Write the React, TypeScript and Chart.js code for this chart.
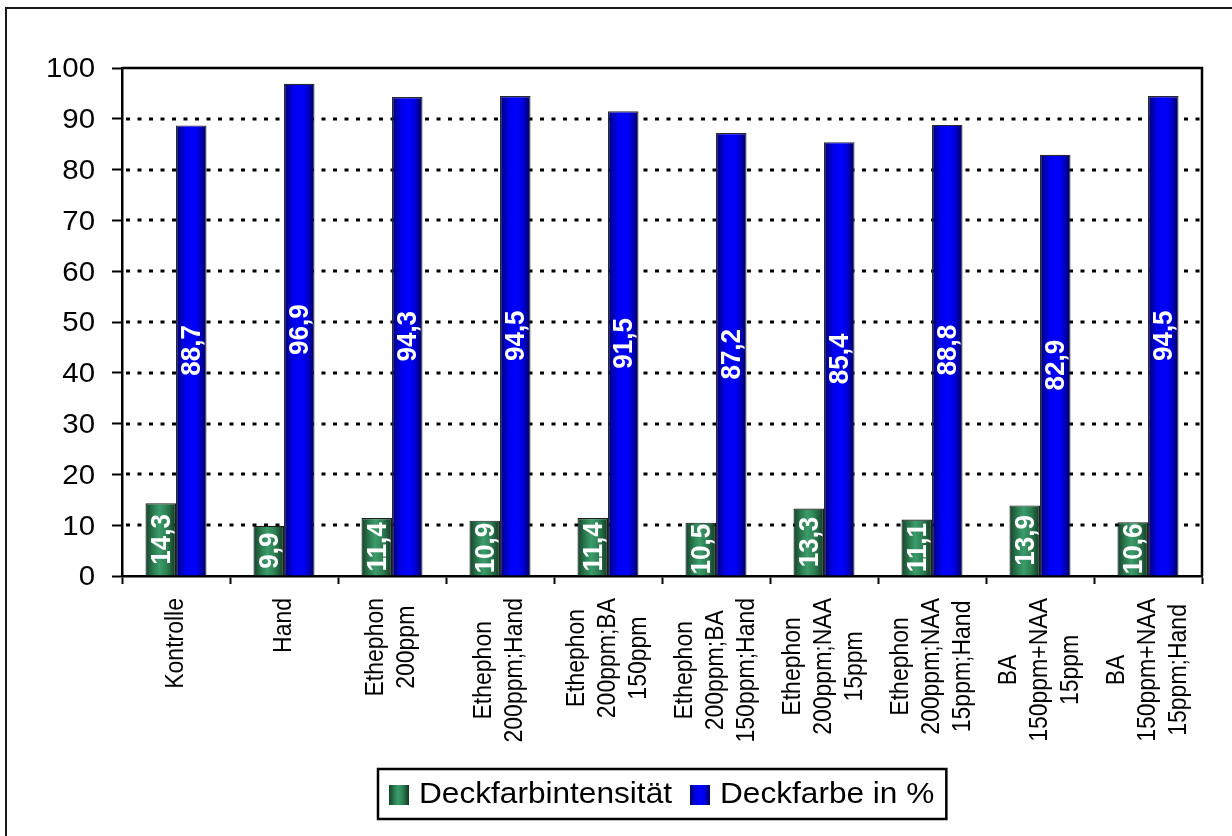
import React, { useEffect, useRef } from "react";
import { Chart, registerables } from "chart.js";

Chart.register(...registerables);

// Treatments (each entry = the lines of the axis label)
const categories: string[][] = [
  ["Kontrolle"],
  ["Hand"],
  ["Ethephon", "200ppm"],
  ["Ethephon", "200ppm;Hand"],
  ["Ethephon", "200ppm;BA", "150ppm"],
  ["Ethephon", "200ppm;BA", "150ppm;Hand"],
  ["Ethephon", "200ppm;NAA", "15ppm"],
  ["Ethephon", "200ppm;NAA", "15ppm;Hand"],
  ["BA", "150ppm+NAA", "15ppm"],
  ["BA", "150ppm+NAA", "15ppm;Hand"],
];

const deckfarbintensitaet: number[] = [14.3, 9.9, 11.4, 10.9, 11.4, 10.5, 13.3, 11.1, 13.9, 10.6];
const deckfarbeProzent: number[] = [88.7, 96.9, 94.3, 94.5, 91.5, 87.2, 85.4, 88.8, 82.9, 94.5];

const seriesNames: string[] = ["Deckfarbintensität", "Deckfarbe in %"];

const yMin = 0;
const yMax = 100;
const yStep = 10;
const dottedGridValues: number[] = [10, 20, 30, 40, 50, 60, 70, 80, 90];

const FONT = "'Liberation Sans', Arial, Helvetica, sans-serif";
const CAT_PCT = 0.565;
const H_SCALE = 1.09;

type Stop = [number, string];
const greenStops: Stop[] = [
  [0, "#15432a"],
  [0.25, "#2a7a4f"],
  [0.45, "#3c9c6b"],
  [0.7, "#2c7f52"],
  [1, "#103620"],
];
const blueStops: Stop[] = [
  [0, "#00006a"],
  [0.28, "#0000e6"],
  [0.5, "#0000ff"],
  [0.72, "#0000e6"],
  [1, "#000060"],
];

function makeGradient(ctx: CanvasRenderingContext2D, left: number, w: number, stops: Stop[]) {
  const g = ctx.createLinearGradient(left, 0, left + w, 0);
  stops.forEach(([o, c]) => g.addColorStop(o, c));
  return g;
}

// Horizontal gradient per bar, positioned from the category scale
function barFill(stops: Stop[], side: number) {
  return (context: any) => {
    const chart = context.chart;
    const xs = chart.scales && chart.scales.x;
    if (context.type !== "data" || !xs || !chart.chartArea) return stops[2][1];
    const cx = xs.getPixelForValue(context.dataIndex);
    const w = ((xs.width / chart.data.labels.length) * CAT_PCT) / 2;
    const left = side === 0 ? cx - w : cx;
    return makeGradient(chart.ctx, left, w, stops);
  };
}

// Dotted horizontal grid behind the bars
const dottedGrid = {
  id: "dottedGrid",
  beforeDatasetsDraw(chart: any) {
    const { ctx, chartArea } = chart;
    const ys = chart.scales.y;
    ctx.save();
    ctx.strokeStyle = "#000";
    ctx.lineWidth = 3;
    ctx.setLineDash([4, 7.5]);
    dottedGridValues.forEach((v) => {
      const y = Math.round(ys.getPixelForValue(v));
      ctx.beginPath();
      ctx.moveTo(chartArea.left + 4, y);
      ctx.lineTo(chartArea.right, y);
      ctx.stroke();
    });
    ctx.restore();
  },
};

// Rotated white value labels in the middle of each bar
const valueLabels = {
  id: "valueLabels",
  afterDatasetsDraw(chart: any) {
    const c = chart.ctx;
    chart.data.datasets.forEach((ds: any, di: number) => {
      const meta = chart.getDatasetMeta(di);
      meta.data.forEach((el: any, i: number) => {
        const v = ds.data[i] as number;
        const { x, y, base } = el.getProps(["x", "y", "base"], true);
        c.save();
        c.translate(x + 1, (y + base) / 2);
        c.scale(H_SCALE, 1);
        c.rotate(-Math.PI / 2);
        c.font = `bold 26px ${FONT}`;
        c.fillStyle = "#ffffff";
        c.textAlign = "center";
        c.textBaseline = "middle";
        c.fillText(v.toFixed(1).replace(".", ","), 0, 0);
        c.restore();
      });
    });
  },
};

// Plot frame, y tick labels, rotated category labels, legend box and outer frame
const decorations = {
  id: "decorations",
  afterDraw(chart: any) {
    const { ctx, chartArea } = chart;
    const xs = chart.scales.x;
    const ys = chart.scales.y;

    // plot area top + right border
    ctx.save();
    ctx.strokeStyle = "#000";
    ctx.lineWidth = 2.5;
    ctx.beginPath();
    ctx.moveTo(chartArea.left, chartArea.top);
    ctx.lineTo(chartArea.right, chartArea.top);
    ctx.lineTo(chartArea.right, chartArea.bottom);
    ctx.stroke();
    ctx.restore();

    // y tick labels
    ctx.save();
    ctx.font = `27px ${FONT}`;
    ctx.fillStyle = "#000";
    ctx.textAlign = "right";
    ctx.textBaseline = "middle";
    ys.ticks.forEach((t: any) => {
      const y = ys.getPixelForValue(t.value);
      ctx.save();
      ctx.translate(chartArea.left - 27, y + 2);
      ctx.scale(H_SCALE, 1);
      ctx.fillText(String(t.value), 0, 0);
      ctx.restore();
    });
    ctx.restore();

    // category labels, rotated, lines centred on each other
    const labels: string[][] = chart.data.labels;
    const lineGap = 31;
    const topY = 598;
    ctx.save();
    ctx.font = `23px ${FONT}`;
    ctx.fillStyle = "#000";
    ctx.textAlign = "center";
    ctx.textBaseline = "middle";
    labels.forEach((lines, i) => {
      const cx = xs.getPixelForValue(i);
      const maxW = Math.max(...lines.map((l) => ctx.measureText(l).width));
      const yc = topY + maxW / 2;
      lines.forEach((line, k) => {
        const lx = cx + (k - (lines.length - 1) / 2) * lineGap;
        ctx.save();
        ctx.translate(lx, yc);
        ctx.scale(H_SCALE, 1);
        ctx.rotate(-Math.PI / 2);
        ctx.fillText(line, 0, 0);
        ctx.restore();
      });
    });
    ctx.restore();

    // legend
    const sw = 20;
    const padL = 11;
    const padR = 12;
    const gapSwatch = 10;
    const gapItem = 18;
    ctx.save();
    ctx.font = `29px ${FONT}`;
    const tw = seriesNames.map((n) => ctx.measureText(n).width * H_SCALE);
    const total = padL + sw + gapSwatch + tw[0] + gapItem + sw + gapSwatch + tw[1] + padR;
    const midX = (chartArea.left + chartArea.right) / 2;
    const boxL = Math.round(midX - total / 2);
    const boxT = 769;
    const boxH = 50;
    ctx.strokeStyle = "#000";
    ctx.lineWidth = 2.5;
    ctx.strokeRect(boxL, boxT, total, boxH);
    const cy = boxT + boxH / 2;
    let x = boxL + padL;
    [greenStops, blueStops].forEach((stops, idx) => {
      ctx.fillStyle = makeGradient(ctx, x, sw, stops);
      ctx.fillRect(x, cy - sw / 2 + 1, sw, sw);
      x += sw + gapSwatch;
      ctx.save();
      ctx.translate(x, cy + 1);
      ctx.scale(H_SCALE, 1);
      ctx.fillStyle = "#000";
      ctx.textAlign = "left";
      ctx.textBaseline = "middle";
      ctx.fillText(seriesNames[idx], 0, 0);
      ctx.restore();
      x += tw[idx] + gapItem;
    });
    ctx.restore();

    // outer frame (left and top edges)
    ctx.save();
    ctx.strokeStyle = "#1a1a1a";
    ctx.lineWidth = 2;
    ctx.beginPath();
    ctx.moveTo(6, chart.height);
    ctx.lineTo(6, 8);
    ctx.lineTo(chart.width, 8);
    ctx.stroke();
    ctx.restore();
  },
};

export default function App() {
  const canvasRef = useRef<HTMLCanvasElement | null>(null);

  useEffect(() => {
    if (!canvasRef.current) return;
    const chart = new Chart(canvasRef.current, {
      type: "bar",
      data: {
        labels: categories as any,
        datasets: [
          {
            label: seriesNames[0],
            data: deckfarbintensitaet,
            backgroundColor: barFill(greenStops, 0) as any,
            borderColor: "#1c1c1c",
            borderWidth: 1.2,
            categoryPercentage: CAT_PCT,
            barPercentage: 1,
          },
          {
            label: seriesNames[1],
            data: deckfarbeProzent,
            backgroundColor: barFill(blueStops, 1) as any,
            borderColor: "#2a2a2a",
            borderWidth: 1.2,
            categoryPercentage: CAT_PCT,
            barPercentage: 1,
          },
        ],
      },
      options: {
        responsive: false,
        animation: false,
        devicePixelRatio: 1,
        layout: { padding: { left: 0, top: 68, right: 30, bottom: 0 } },
        plugins: {
          legend: { display: false },
          tooltip: { enabled: false },
        },
        scales: {
          x: {
            grid: {
              offset: true,
              drawOnChartArea: false,
              drawTicks: true,
              tickLength: 8,
              tickWidth: 2,
              tickColor: "#000",
              color: "#000",
            },
            border: { display: true, color: "#000", width: 2.5 },
            ticks: { display: false },
            afterFit: (scale: any) => {
              scale.height = 260;
            },
          },
          y: {
            min: yMin,
            max: yMax,
            grid: {
              drawOnChartArea: false,
              drawTicks: true,
              tickLength: 10,
              tickWidth: 2,
              tickColor: "#000",
              color: "#000",
            },
            border: { display: true, color: "#000", width: 2.5 },
            ticks: {
              stepSize: yStep,
              display: false,
            },
            afterFit: (scale: any) => {
              scale.width = 122;
            },
          },
        },
      },
      plugins: [dottedGrid, valueLabels, decorations],
    });
    return () => chart.destroy();
  }, []);

  return (
    <div
      style={{
        position: "fixed",
        left: 0,
        top: 0,
        width: 1232,
        height: 836,
        background: "#fff",
      }}
    >
      <canvas ref={canvasRef} width={1232} height={836} style={{ display: "block" }} />
    </div>
  );
}
